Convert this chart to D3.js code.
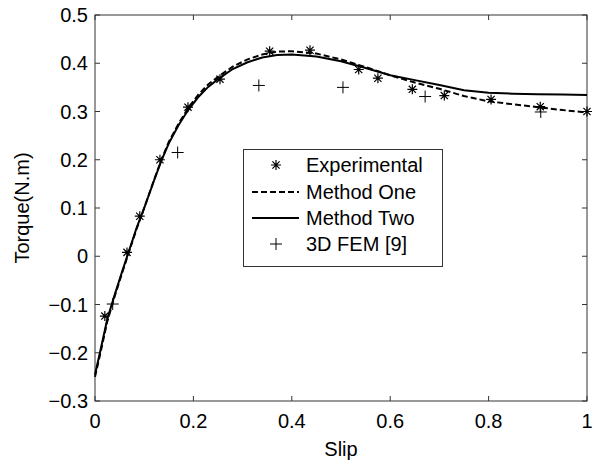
<!DOCTYPE html>
<html>
<head>
<meta charset="utf-8">
<script src="https://cdn.jsdelivr.net/npm/d3@7"></script>
<style>
  body { margin: 0; background: #fff; }
  svg text { font-family: "Liberation Sans", Arial, sans-serif; fill: #000; }
</style>
</head>
<body>
<svg id="chart"></svg>
<script>
const width = 594, height = 465;
const margin = {top: 15, right: 7, bottom: 64, left: 95};

// measured data
const expSlip   = [0.02, 0.065, 0.091, 0.132, 0.189, 0.254, 0.355, 0.437, 0.536, 0.575, 0.645, 0.71, 0.805, 0.905, 1.0];
const expTorque = [-0.124, 0.008, 0.083, 0.2, 0.309, 0.367, 0.425, 0.427, 0.387, 0.369, 0.346, 0.333, 0.325, 0.31, 0.3];

const femSlip   = [0.036, 0.168, 0.333, 0.504, 0.671, 0.906];
const femTorque = [-0.099, 0.215, 0.354, 0.35, 0.331, 0.299];

// simulated curves
const curveSlip = [0, 0.01, 0.025, 0.04, 0.055, 0.07, 0.085, 0.1, 0.12, 0.135, 0.15, 0.17, 0.19, 0.21, 0.23, 0.25, 0.28, 0.31, 0.34, 0.37, 0.4, 0.45, 0.5, 0.55, 0.6, 0.65, 0.7, 0.75, 0.8, 0.85, 0.9, 0.95, 1.0];
const methodOne = [-0.25, -0.205, -0.135, -0.083, -0.035, 0.012, 0.058, 0.1, 0.158, 0.2, 0.237, 0.275, 0.308, 0.335, 0.356, 0.372, 0.393, 0.408, 0.418, 0.424, 0.425, 0.42, 0.408, 0.392, 0.375, 0.36, 0.347, 0.332, 0.321, 0.315, 0.309, 0.303, 0.298];
const methodTwo = [-0.245, -0.2, -0.13, -0.08, -0.032, 0.014, 0.06, 0.1, 0.157, 0.198, 0.234, 0.272, 0.304, 0.33, 0.351, 0.367, 0.388, 0.402, 0.412, 0.417, 0.418, 0.414, 0.404, 0.39, 0.375, 0.365, 0.355, 0.344, 0.339, 0.337, 0.336, 0.335, 0.334];

const xTicks = [0, 0.2, 0.4, 0.6, 0.8, 1];
const yTicks = [-0.3, -0.2, -0.1, 0, 0.1, 0.2, 0.3, 0.4, 0.5];

const legendLabels = ["Experimental", "Method One", "Method Two", "3D FEM [9]"];

const svg = d3.select("#chart").attr("width", width).attr("height", height);

const x = d3.scaleLinear().domain([0, 1]).range([margin.left, width - margin.right]);
const y = d3.scaleLinear().domain([-0.3, 0.5]).range([height - margin.bottom, margin.top]);

const axisColor = "#333";
const tickLen = 5;
const fs = 20;

// box
svg.append("rect")
   .attr("x", x(0)).attr("y", y(0.5))
   .attr("width", x(1) - x(0)).attr("height", y(-0.3) - y(0.5))
   .attr("fill", "none").attr("stroke", axisColor).attr("stroke-width", 1);

// inward ticks, all sides
const ticks = svg.append("g").attr("stroke", axisColor).attr("stroke-width", 1);
xTicks.forEach(t => {
    ticks.append("line").attr("x1", x(t)).attr("x2", x(t)).attr("y1", y(-0.3)).attr("y2", y(-0.3) - tickLen);
    ticks.append("line").attr("x1", x(t)).attr("x2", x(t)).attr("y1", y(0.5)).attr("y2", y(0.5) + tickLen);
});
yTicks.forEach(t => {
    ticks.append("line").attr("x1", x(0)).attr("x2", x(0) + tickLen).attr("y1", y(t)).attr("y2", y(t));
    ticks.append("line").attr("x1", x(1)).attr("x2", x(1) - tickLen).attr("y1", y(t)).attr("y2", y(t));
});

svg.append("g").selectAll("text")
   .data(xTicks).enter().append("text")
   .attr("x", d => x(d)).attr("y", y(-0.3) + 27)
   .attr("text-anchor", "middle").attr("font-size", fs)
   .text(d => d3.format("")(d));

svg.append("g").selectAll("text")
   .data(yTicks).enter().append("text")
   .attr("x", x(0) - 7).attr("y", d => y(d) + 7)
   .attr("text-anchor", "end").attr("font-size", fs)
   .text(d => d3.format("")(d));

svg.append("text")
   .attr("x", (x(0) + x(1)) / 2).attr("y", 456)
   .attr("text-anchor", "middle").attr("font-size", fs)
   .text("Slip");

svg.append("text")
   .attr("transform", `translate(29, ${(y(-0.3) + y(0.5)) / 2}) rotate(-90)`)
   .attr("text-anchor", "middle").attr("font-size", fs)
   .text("Torque(N.m)");

// curves
const line = d3.line().x((d, i) => x(curveSlip[i])).y(d => y(d));

svg.append("path")
   .attr("d", line(methodTwo))
   .attr("fill", "none").attr("stroke", "#000").attr("stroke-width", 2);

svg.append("path")
   .attr("d", line(methodOne))
   .attr("fill", "none").attr("stroke", "#000").attr("stroke-width", 2)
   .attr("stroke-dasharray", "6,3");

// markers
function star(g, cx, cy, r) {
    const d = r * 0.72;
    g.append("path")
     .attr("d", `M${cx - r},${cy}H${cx + r}M${cx},${cy - r}V${cy + r}M${cx - d},${cy - d}L${cx + d},${cy + d}M${cx - d},${cy + d}L${cx + d},${cy - d}`)
     .attr("stroke", "#000").attr("stroke-width", 1.2).attr("fill", "none");
}
function plus(g, cx, cy, r) {
    g.append("path")
     .attr("d", `M${cx - r},${cy}H${cx + r}M${cx},${cy - r}V${cy + r}`)
     .attr("stroke", "#000").attr("stroke-width", 1).attr("fill", "none");
}

const marks = svg.append("g");
expSlip.forEach((s, i) => star(marks, x(s), y(expTorque[i]), 5));
femSlip.forEach((s, i) => plus(marks, x(s), y(femTorque[i]), 6));

// legend
const lg = svg.append("g");
lg.append("rect")
  .attr("x", 243.5).attr("y", 149.5).attr("width", 199).attr("height", 117)
  .attr("fill", "#fff").attr("stroke", axisColor).attr("stroke-width", 1);

const rowY = [165, 192, 218, 244];
star(lg, 276, rowY[0], 5);
lg.append("line").attr("x1", 252).attr("x2", 299).attr("y1", rowY[1]).attr("y2", rowY[1])
  .attr("stroke", "#000").attr("stroke-width", 2).attr("stroke-dasharray", "6,3");
lg.append("line").attr("x1", 252).attr("x2", 299).attr("y1", rowY[2]).attr("y2", rowY[2])
  .attr("stroke", "#000").attr("stroke-width", 2);
plus(lg, 276, rowY[3], 6);

lg.selectAll("text.lab")
  .data(legendLabels).enter().append("text")
  .attr("class", "lab")
  .attr("x", 306).attr("y", (d, i) => rowY[i] + 7)
  .attr("font-size", fs)
  .text(d => d);
</script>
</body>
</html>
